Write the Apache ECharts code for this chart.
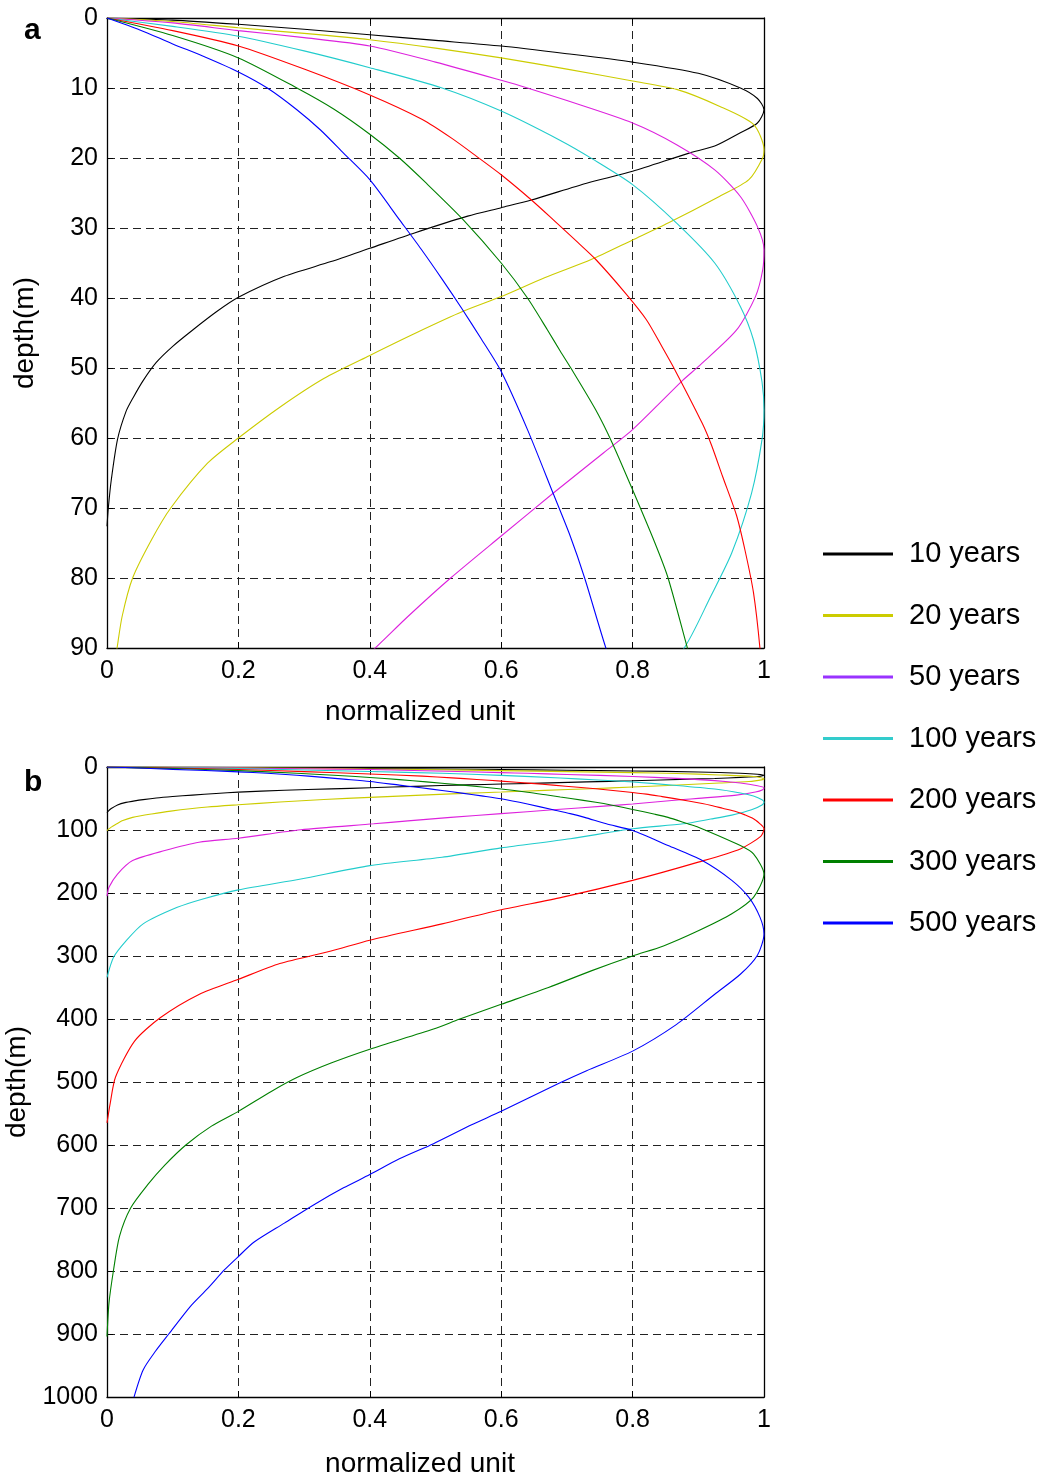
<!DOCTYPE html>
<html>
<head>
<meta charset="utf-8">
<script src="https://cdn.jsdelivr.net/npm/echarts@6/dist/echarts.min.js"></script>
<style>
  html, body { margin: 0; padding: 0; background: #fff; }
  #chart { width: 1042px; height: 1479px; }
</style>
</head>
<body>
<div id="chart"></div>
<script>
// Normalized profiles versus depth for several elapsed times.
// Each point is [normalized value, depth in metres].
const periods = ['10 years', '20 years', '50 years', '100 years', '200 years', '300 years', '500 years'];

const years10 = [[0,0],[0.1,0.3],[0.2,0.9],[0.3,1.6],[0.4,2.4],[0.5,3.2],[0.6,4.0],[0.7,5.1],[0.8,6.3],[0.9,7.9],[0.964,10],[0.99,11.5],[1.0,13.1],[0.99,15.0],[0.964,16.4],[0.925,18.3],[0.886,19.3],[0.8,21.9],[0.73,23.6],[0.646,26],[0.6,27.1],[0.549,28.3],[0.468,30.7],[0.4,32.9],[0.341,34.8],[0.27,36.9],[0.2,39.9],[0.166,42.0],[0.13,44.6],[0.1,46.9],[0.075,49.2],[0.055,51.8],[0.04,54.2],[0.029,56.2],[0.016,60.2],[0.0065,66],[0.002,70],[0,72.6]];

const years20 = [[0,0],[0.1,0.5],[0.2,1.4],[0.3,2.2],[0.4,3.1],[0.5,4.3],[0.6,5.7],[0.7,7.3],[0.8,9.0],[0.867,10.2],[0.932,12.6],[0.984,15.2],[1.0,18.8],[0.998,20],[0.977,23.1],[0.932,25.5],[0.854,29.3],[0.8,31.7],[0.737,34.5],[0.666,37.1],[0.6,39.8],[0.542,41.9],[0.47,45],[0.4,48.2],[0.33,51.5],[0.263,55.6],[0.2,60],[0.153,63.6],[0.097,70],[0.068,74.5],[0.039,80],[0.023,85.5],[0.015,90.2],[0.007,95],[0.002,99],[0,101]];

const years50 = [[0,0],[0.1,0.7],[0.2,1.8],[0.3,2.8],[0.4,4.0],[0.5,6.3],[0.6,8.9],[0.64,10],[0.7,11.8],[0.8,15],[0.867,18.1],[0.925,21.7],[0.964,25.5],[0.99,29.8],[1.0,33.1],[0.998,36],[0.987,39.8],[0.958,44.6],[0.9,49.8],[0.877,51.7],[0.8,58.8],[0.756,62.1],[0.679,67.9],[0.6,74],[0.523,80],[0.458,85.5],[0.406,90.2],[0.295,99.7],[0.2,113],[0.14,119.4],[0.088,132.6],[0.039,148.5],[0.016,170],[0.003,191],[0,205]];

const years100 = [[0,0],[0.1,1.2],[0.2,2.6],[0.3,4.7],[0.4,7.1],[0.51,10],[0.6,13.3],[0.69,17.5],[0.74,20.2],[0.8,23.8],[0.867,29.3],[0.925,35],[0.964,41.2],[0.984,46],[0.997,52],[1.0,56],[0.997,60.2],[0.981,67.9],[0.951,76.4],[0.919,82.6],[0.877,90.2],[0.8,98],[0.705,114],[0.6,128.4],[0.51,143.2],[0.4,156.5],[0.295,177.7],[0.2,195],[0.146,209.5],[0.107,222.8],[0.055,249],[0.029,276],[0.01,302],[0,334]];

const years200 = [[0,0],[0.1,1.8],[0.2,4.0],[0.3,7.3],[0.4,11],[0.48,14.5],[0.525,17.2],[0.563,19.8],[0.6,22.4],[0.646,26],[0.679,28.8],[0.717,32.1],[0.744,34.5],[0.789,39.3],[0.821,43.1],[0.845,47],[0.864,50.2],[0.906,57.9],[0.92,61],[0.937,65.5],[0.958,71],[0.971,76],[0.984,82.1],[0.994,90.2],[1.0,98],[0.995,110],[0.964,130],[0.9,151],[0.8,180],[0.692,207],[0.6,226.5],[0.51,249],[0.4,275],[0.341,292],[0.263,312],[0.2,337],[0.14,361],[0.081,398],[0.042,435],[0.013,492],[0.005,533],[0,565]];

const years300 = [[0,0],[0.1,2.5],[0.2,5.7],[0.289,10],[0.345,13],[0.4,16.6],[0.445,20],[0.486,23.6],[0.542,28.8],[0.6,35],[0.64,40],[0.67,44.5],[0.69,47.6],[0.706,50],[0.744,56],[0.769,60.7],[0.8,67.4],[0.834,75],[0.854,80],[0.884,90.2],[0.9,95.5],[0.964,124.7],[0.984,138],[1.0,170],[0.984,207],[0.951,233],[0.9,260],[0.847,284],[0.8,300],[0.737,323.6],[0.672,350],[0.6,376.7],[0.536,400.5],[0.497,416],[0.4,448],[0.341,470],[0.289,493],[0.25,515],[0.2,546.6],[0.159,570],[0.12,600],[0.088,632],[0.062,663],[0.036,700],[0.019,745],[0.01,798],[0.003,851],[0,904]];

const years500 = [[0,0],[0.05,1.7],[0.1,3.7],[0.15,5.6],[0.2,7.7],[0.244,10],[0.289,13.1],[0.325,16],[0.36,19.3],[0.4,23.1],[0.445,28.8],[0.478,33],[0.51,37.3],[0.54,41.5],[0.57,45.9],[0.6,50.5],[0.64,58.8],[0.679,67.9],[0.705,74],[0.727,80],[0.76,90.2],[0.8,100.8],[0.854,124.7],[0.906,148.5],[0.951,180],[0.977,207],[0.994,238.7],[1.0,265],[0.99,298.7],[0.964,329],[0.925,360.7],[0.867,408.5],[0.8,451],[0.73,482],[0.688,502],[0.6,546.6],[0.555,568],[0.497,597.9],[0.445,622],[0.4,647],[0.36,668],[0.315,694.7],[0.27,724],[0.224,754],[0.2,777],[0.179,798],[0.153,828],[0.127,856],[0.094,900],[0.074,927],[0.055,957],[0.041,1000.5]];

const profiles = [years10, years20, years50, years100, years200, years300, years500];

// Depth ranges of the two panels
const depthMaxA = 90, depthStepA = 10;
const depthMaxB = 1000, depthStepB = 100;

const lineColors = ['#000000', '#cccc00', '#dd22dd', '#22cccc', '#ff0000', '#008000', '#0000ff'];
const legendColors = ['#000000', '#cccc00', '#9933ff', '#33cccc', '#ff0000', '#008000', '#0000ff'];

const FONT = "'Liberation Sans', Arial, Helvetica, sans-serif";

const chart = echarts.init(document.getElementById('chart'), null, { renderer: 'canvas' });

const grids = [
  { left: 107, top: 18, width: 657, height: 630, outerBoundsMode: 'none', containLabel: false },
  { left: 107, top: 767, width: 657, height: 630, outerBoundsMode: 'none', containLabel: false }
];

function xAxes(gridIndex, nameGap) {
  return [
    {
      gridIndex, type: 'value', position: 'bottom', min: 0, max: 1, interval: 0.2,
      axisLine: { show: true, onZero: false, lineStyle: { color: '#000', width: 1.3 } },
      axisTick: { show: true, inside: true, length: 6, lineStyle: { color: '#000' } },
      axisLabel: { show: true, color: '#000', fontSize: 25, fontFamily: FONT, margin: 11 },
      splitLine: { show: true, lineStyle: { color: '#222', width: 1, type: [8, 5] } },
      name: 'normalized unit', nameLocation: 'middle', nameGap: nameGap,
      nameTextStyle: { color: '#000', fontSize: 28, fontFamily: FONT, padding: [0, 31, 0, 0] }
    },
    {
      gridIndex, type: 'value', position: 'top', min: 0, max: 1, interval: 0.2,
      axisLine: { show: true, onZero: false, lineStyle: { color: '#000', width: 1.3 } },
      axisTick: { show: true, inside: true, length: 6, lineStyle: { color: '#000' } },
      axisLabel: { show: false }, splitLine: { show: false }
    }
  ];
}

function yAxes(gridIndex, max, step) {
  return [
    {
      gridIndex, type: 'value', position: 'left', inverse: true, min: 0, max, interval: step,
      axisLine: { show: true, onZero: false, lineStyle: { color: '#000', width: 1.3 } },
      axisTick: { show: true, inside: true, length: 6, lineStyle: { color: '#000' } },
      axisLabel: {
        show: true, color: '#000', fontSize: 25, fontFamily: FONT, margin: 9,
        formatter: function (v) { return String(v); }
      },
      splitLine: { show: true, lineStyle: { color: '#222', width: 1, type: [8, 5] } },
      name: 'depth(m)', nameLocation: 'middle', nameGap: 68,
      nameTextStyle: { color: '#000', fontSize: 28, fontFamily: FONT }
    },
    {
      gridIndex, type: 'value', position: 'right', inverse: true, min: 0, max, interval: step,
      axisLine: { show: true, onZero: false, lineStyle: { color: '#000', width: 1.3 } },
      axisTick: { show: true, inside: true, length: 6, lineStyle: { color: '#000' } },
      axisLabel: { show: false }, splitLine: { show: false }
    }
  ];
}

const series = [];
[0, 1].forEach(function (panel) {
  profiles.forEach(function (data, i) {
    series.push({
      name: periods[i],
      type: 'line',
      xAxisIndex: panel * 2,
      yAxisIndex: panel * 2,
      data: data,
      showSymbol: false,
      smooth: 0.25,
      clip: true,
      lineStyle: { color: lineColors[i], width: 1.1 },
      itemStyle: { color: lineColors[i] },
      emphasis: { disabled: true },
      z: 3
    });
  });
});

chart.setOption({
  animation: false,
  backgroundColor: '#fff',
  grid: grids,
  xAxis: xAxes(0, 50).concat(xAxes(1, 53)),
  yAxis: yAxes(0, depthMaxA, depthStepA).concat(yAxes(1, depthMaxB, depthStepB)),
  legend: {
    orient: 'vertical',
    left: 823,
    top: 539,
    padding: 0,
    icon: 'rect',
    itemWidth: 70,
    itemHeight: 3,
    itemGap: 31.5,
    selectedMode: false,
    textStyle: { color: '#000', fontSize: 29, fontFamily: FONT, lineHeight: 30, padding: [0, 0, 0, 11] },
    data: periods.map(function (p, i) {
      return { name: p, itemStyle: { color: legendColors[i] } };
    })
  },
  graphic: [
    { type: 'text', left: 24, top: 16, style: { text: 'a', fill: '#000', font: 'bold 30px ' + FONT } },
    { type: 'text', left: 24, top: 768, style: { text: 'b', fill: '#000', font: 'bold 30px ' + FONT } }
  ],
  series: series
});
</script>
</body>
</html>
